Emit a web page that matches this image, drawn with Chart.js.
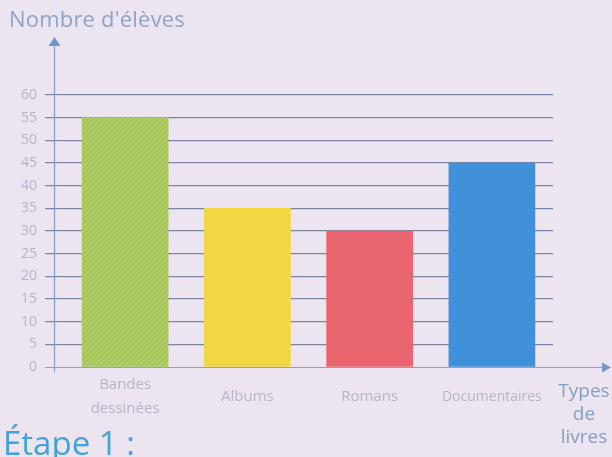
<!DOCTYPE html>
<html>
<head>
<meta charset="utf-8">
<script src="https://cdn.jsdelivr.net/npm/chart.js@4"></script>
<style>
  html, body { margin: 0; padding: 0; background: #ece5ef; overflow: hidden; }
  #wrap { position: relative; width: 612px; height: 457px; }
  #c { position: absolute; left: 0; top: 0; }
  .lbl { position: absolute; font-family: 'Open Sans', sans-serif; color: #8fa3c6; white-space: nowrap; }
  #title { left: 9px; top: 3px; font-size: 22px; letter-spacing: 0.2px; }
  #xname { left: 553px; top: 379px; font-size: 19px; line-height: 23px; text-align: center; width: 62px; color: #829fc2; }
  #step { left: 3px; top: 420px; font-size: 33px; color: #43a2d8; }
</style>
</head>
<body>
<div id="wrap">
  <canvas id="c" width="612" height="457"></canvas>
  <div class="lbl" id="title">Nombre d'élèves</div>
  <div class="lbl" id="xname">Types<br>de<br>livres</div>
  <div class="lbl" id="step">Étape 1 :</div>
</div>
<script>
// data
const categories = [['Bandes', 'dessinées'], 'Albums', 'Romans', 'Documentaires'];
const values = [55, 35, 30, 45];
const barColors = ['#a8c85a', '#f2d743', '#e8656f', '#4190da'];
const yMax = 60;
const yStep = 5;

// hatched green for the first bar
function hatch(base, line) {
    const p = document.createElement('canvas');
    p.width = 5; p.height = 5;
    const g = p.getContext('2d');
    g.fillStyle = base;
    g.fillRect(0, 0, 5, 5);
    g.strokeStyle = line;
    g.lineWidth = 1;
    g.beginPath();
    g.moveTo(0, 5); g.lineTo(5, 0);
    g.moveTo(-1, 1); g.lineTo(1, -1);
    g.moveTo(4, 6); g.lineTo(6, 4);
    g.stroke();
    return g.createPattern(p, 'repeat');
}

const ctx = document.getElementById('c').getContext('2d');
const fills = barColors.slice();
fills[0] = hatch('#a6c659', '#bcd67a');

// blue axes with arrow heads
const axesPlugin = {
    id: 'axes',
    afterDatasetsDraw(chart) {
        const { ctx, chartArea, scales } = chart;
        const y0 = Math.round(scales.y.getPixelForValue(0)) + 0.5;
        const ax = chartArea.left - 9.5;
        ctx.save();
        ctx.strokeStyle = '#7ea3d4';
        ctx.fillStyle = '#6f98cf';
        ctx.lineWidth = 1.2;
        ctx.beginPath();
        ctx.moveTo(ax, y0 + 5);
        ctx.lineTo(ax, 44);
        ctx.moveTo(chartArea.left - 19, y0);
        ctx.lineTo(604, y0);
        ctx.stroke();
        ctx.beginPath();
        ctx.moveTo(ax, 37); ctx.lineTo(ax - 6, 46); ctx.lineTo(ax + 6, 46); ctx.closePath();
        ctx.moveTo(611, y0); ctx.lineTo(602, y0 - 5); ctx.lineTo(602, y0 + 5); ctx.closePath();
        ctx.fill();
        ctx.restore();
    }
};

new Chart(ctx, {
    type: 'bar',
    data: {
        labels: categories,
        datasets: [{
            data: values,
            backgroundColor: fills,
            borderWidth: 0,
            barThickness: 86
        }]
    },
    options: {
        responsive: false,
        animation: false,
        layout: { padding: { top: 95, right: 59, left: 0, bottom: 0 } },
        plugins: { legend: { display: false }, tooltip: { enabled: false } },
        scales: {
            x: {
                grid: { display: false, drawTicks: false },
                border: { display: false },
                ticks: {
                    padding: 18,
                    color: '#b6b4c9',
                    maxRotation: 0,
                    autoSkip: false,
                    crossAlign: 'center',
                    font: c => ({ family: 'Open Sans', size: c.index === 3 ? 14 : 15, lineHeight: 1.55 })
                },
                afterFit(s) { s.height = 90; }
            },
            y: {
                min: 0,
                max: yMax,
                grid: {
                    color: c => c.tick && c.tick.value === 0 ? 'rgba(0,0,0,0)' : '#7b84a0',
                    lineWidth: 1.2,
                    tickLength: 19,
                    drawTicks: true
                },
                border: { display: false },
                ticks: {
                    stepSize: yStep,
                    padding: 8,
                    color: '#b6b4c9',
                    font: { family: 'Open Sans', size: 14 }
                },
                afterFit(s) { s.width = 64; }
            }
        }
    },
    plugins: [axesPlugin]
});
</script>
</body>
</html>
